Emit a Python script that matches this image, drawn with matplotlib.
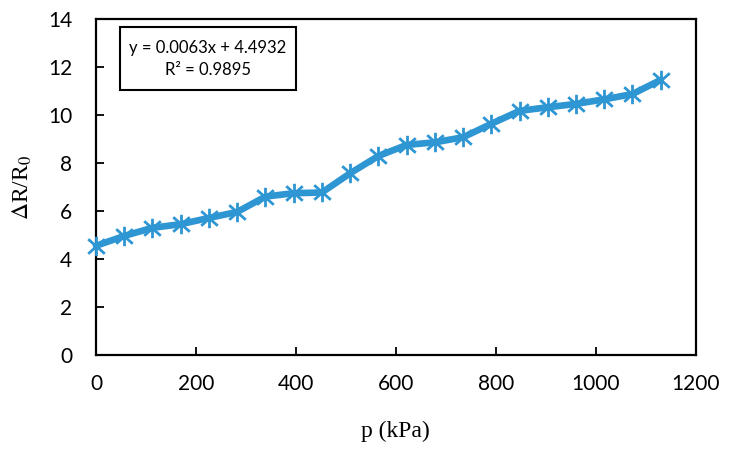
import matplotlib
matplotlib.use('Agg')
import matplotlib.pyplot as plt
from matplotlib.patches import Rectangle
from matplotlib.path import Path

# Data
pressure = [0, 56.5, 113, 169.5, 226, 282.5, 339, 395.5, 452, 508.5, 565,
            621.5, 678, 734.5, 791, 847.5, 904, 960.5, 1017, 1073.5, 1130]
resistance = [4.55, 4.96, 5.30, 5.45, 5.71, 5.96, 6.60, 6.74, 6.77, 7.57, 8.29,
              8.75, 8.86, 9.07, 9.63, 10.17, 10.32, 10.46, 10.65, 10.87, 11.46]
x_ticks = [0, 200, 400, 600, 800, 1000, 1200]
y_ticks = [0, 2, 4, 6, 8, 10, 12, 14]
fit_text = 'y = 0.0063x + 4.4932\nR² = 0.9895'

plt.rcParams['mathtext.fontset'] = 'stix'

# Excel-style star marker: an X with a vertical bar
star = Path([(0, -1), (0, 1), (-0.85, -0.75), (0.85, 0.75), (-0.85, 0.75), (0.85, -0.75)],
            [Path.MOVETO, Path.LINETO, Path.MOVETO, Path.LINETO, Path.MOVETO, Path.LINETO])

fig = plt.figure(figsize=(7.3, 4.5), dpi=100)
ax = fig.add_axes([0.1315, 0.211, 0.8215, 0.747])

line_color = '#2E96D3'
ax.plot(pressure, resistance, color=line_color, linewidth=4.8,
        solid_joinstyle='round', solid_capstyle='round',
        marker=star, markersize=14, markeredgewidth=2,
        markeredgecolor=line_color, markerfacecolor='none', zorder=3, clip_on=False)

ax.set_xlim(0, 1200)
ax.set_ylim(0, 14)
ax.set_xticks(x_ticks)
ax.set_yticks(y_ticks)
ax.tick_params(direction='in', length=6, width=1.3, labelsize=15,
               top=False, right=False)
ax.tick_params(axis='x', pad=14)
ax.tick_params(axis='y', pad=17)
for lbl in ax.get_xticklabels() + ax.get_yticklabels():
    lbl.set_family('Lato')

for sp in ax.spines.values():
    sp.set_linewidth(1.6)
    sp.set_color('black')

ax.set_xlabel('p (kPa)', family='Liberation Serif', fontsize=17, labelpad=19)
ax.set_ylabel(r'$\Delta$R/R$_0$', family='Liberation Serif', fontsize=17, labelpad=10)

# equation box
ax.add_patch(Rectangle((0.04, 0.787), 0.293, 0.189, transform=ax.transAxes,
                       facecolor='white', edgecolor='black', linewidth=1.5, zorder=4))
ax.text(0.1865, 0.8815, fit_text, transform=ax.transAxes, ha='center', va='center',
        family='Lato', fontsize=12, linespacing=1.45, zorder=5)

fig.savefig('out.png', dpi=100)
